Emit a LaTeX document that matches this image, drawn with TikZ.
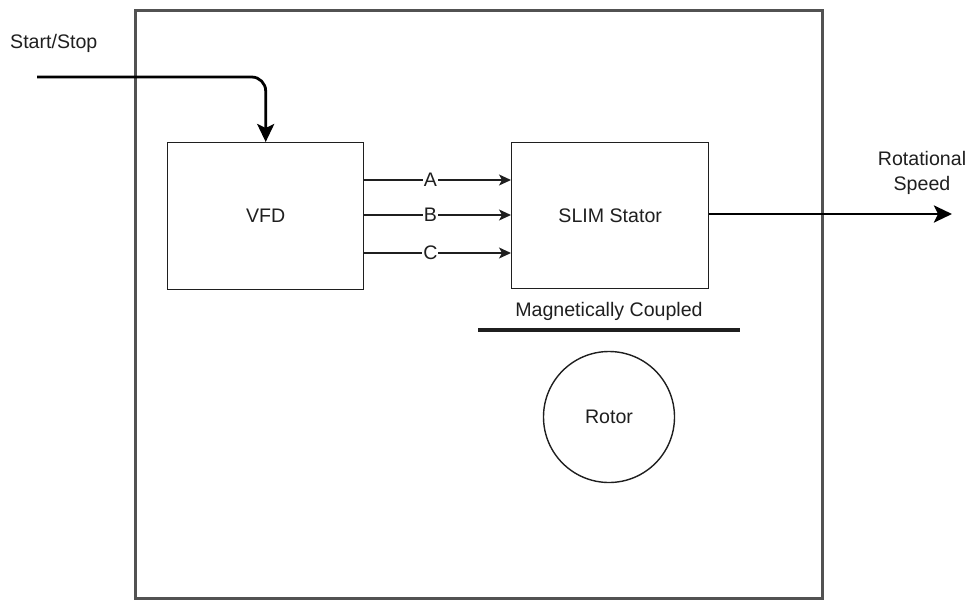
\documentclass[tikz,border=0pt]{standalone}
\usepackage{fontspec}
\setmainfont{Liberation Sans}
\usetikzlibrary{positioning, arrows.meta}
\colorlet{frame}{black!68}
\colorlet{ink}{black!88}
\tikzset{
  txt/.style      ={font=\fontsize{19.6}{25}\selectfont, text=ink, inner sep=0pt},
  blockbox/.style ={draw=ink, line width=1.4pt, minimum width=196, minimum height=147,
                    txt, anchor=north west},
  phase/.style    ={-{Stealth[length=12, width=11, inset=3]}, ink, line width=1.4pt},
  phaselbl/.style ={txt, fill=white, inner sep=1pt, pos=0.45},
  thickarrow/.style={-{Stealth[length=18, width=17, inset=4]}, black, line width=2.8pt},
  couple/.style   ={ink, line width=3.4pt},
}
\begin{document}
\begin{tikzpicture}[x=1pt, y=-1pt]
\useasboundingbox (0,0) rectangle (969,600);

% enclosure
\draw[frame, line width=3pt] (135,10) rectangle (822,598);

% blocks
\node[blockbox] (vfd)  at (167,142) {VFD};
\node[blockbox, minimum width=197, minimum height=146] (slim) at (511,142) {SLIM Stator};

% start/stop input
\node[txt, anchor=west] (startlbl) at (10,43) {Start/Stop};
\coordinate (startin) at (37,77);
\draw[thickarrow, rounded corners=14] (startin) -| (vfd.north);

% three phases
\foreach \ph/\yy in {A/180, B/215, C/253} {
  \draw[phase] (vfd.east |- 0,\yy) -- node[phaselbl] {\ph} (slim.west |- 0,\yy);
}

% output
\coordinate (spd) at (952,214);
\draw[thickarrow] (slim.east |- spd) -- (spd);
\node[txt, align=center] (spdlbl) at (922,173) {Rotational\\Speed};

% coupling
\node[txt] (cpllbl) at (609,311) {Magnetically Coupled};
\coordinate (cpl-l) at (478,330);
\coordinate (cpl-r) at (740,330);
\draw[couple] (cpl-l) -- (cpl-r);

% rotor
\node[txt, draw=ink, line width=1.4pt, circle, minimum size=131] (rotor) at (609,417) {Rotor};

\end{tikzpicture}
\end{document}
